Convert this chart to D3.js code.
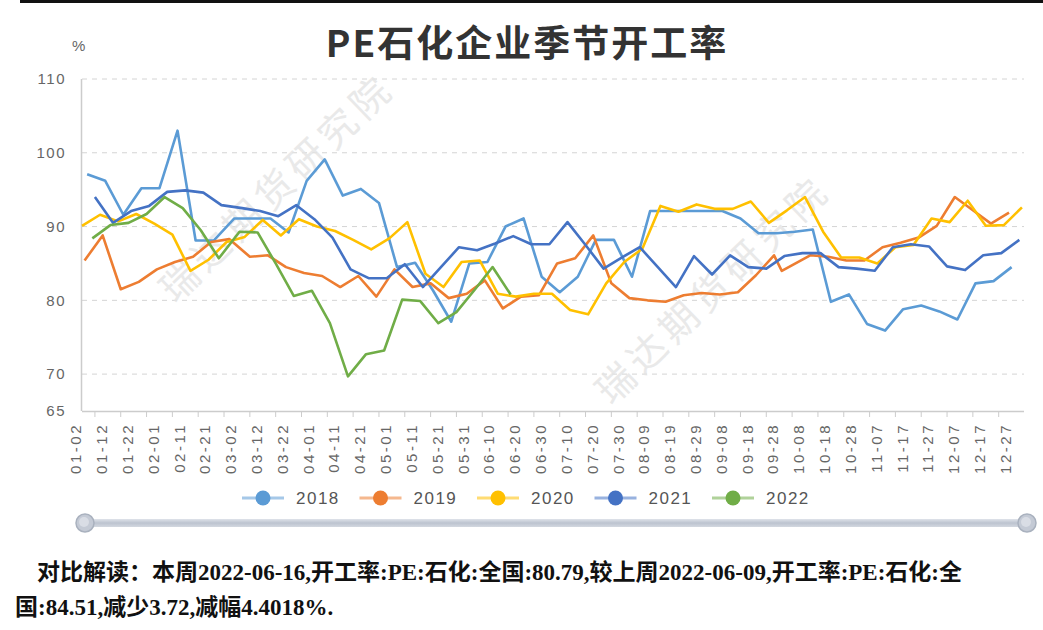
<!DOCTYPE html>
<html>
<head>
<meta charset="utf-8">
<script src="https://cdn.jsdelivr.net/npm/d3@7"></script>
<style>
body{margin:0;background:#fff;}
#canvas{width:1043px;height:630px;}
</style>
</head>
<body>
<div id="canvas"></div>
<script>
// series: one weekly value list per year, first date of each year
var years = ['2018','2019','2020','2021','2022'];
var colors = ['#5b9bd5','#ed7d31','#ffc000','#4472c4','#70ad47'];
var starts = ['2018-01-04','2019-01-03','2020-01-02','2021-01-07','2022-01-06'];

var v2018 = [97.1,96.2,91.6,95.2,95.2,103,88.1,88.1,91.1,91.1,
  91.1,89.2,96.2,99.1,94.2,95.1,93.2,84.5,85.1,81.3,
  77.1,85,85.2,90,91.1,83.2,81.1,83.2,88.2,88.2,
  83.2,92.1,92.1,92.1,92.1,92.1,91.1,89.1,89.1,89.3,
  89.6,79.8,80.8,76.8,75.9,78.8,79.3,78.5,77.4,82.3,
  82.6,84.5];
var v2019 = [85.4,88.8,81.5,82.5,84.2,85.2,85.9,87.9,88.3,85.9,
  86.1,84.5,83.7,83.3,81.8,83.3,80.5,84.2,81.8,82.3,
  80.3,80.9,82.7,78.9,80.5,80.7,85,85.7,88.8,82.3,
  80.3,80,79.8,80.7,81,80.8,81.1,83.4,86.1,84,
  86.1,85.9,85.4,85.4,87.2,87.8,88.5,90.1,94,92.2,
  90.4,91.9];
var v2020 = [90.1,91.6,90.7,91.7,90.4,88.9,84,85.5,87.9,88.6,
  90.9,88.8,91,90,89.4,88.2,86.9,88.4,90.6,83.6,
  81.8,85.2,85.4,80.9,80.5,80.9,80.9,78.7,78.1,82.3,
  85.2,87,92.8,92,93,92.4,92.4,93.4,90.5,92.2,
  94,89.3,85.8,85.8,85,87.2,87.5,91.1,90.6,93.5,
  90.1,90.2,92.6];
var v2021 = [94,90.5,92.1,92.8,94.7,94.9,94.6,92.9,92.5,92.1,
  91.4,92.9,91,88.5,84.2,83,83,84.9,81.8,84.5,
  87.2,86.8,87.7,88.7,87.6,87.6,90.6,87.5,84.3,85.8,
  87.2,84.5,81.8,86,83.5,86.1,84.5,84.3,86,86.4,
  86.4,84.5,84.3,84,87.2,87.6,87.3,84.6,84.1,86.1,
  86.4,88.2];
var v2022 = [88.4,90.2,90.5,91.7,94,92.5,89.5,85.7,89.3,89.2,
  85,80.6,81.3,76.9,69.7,72.7,73.2,80.1,79.9,76.9,
  78.4,81.4,84.51,80.79];
// week that was reported on another day (national day holiday)
var moved = {'2019': {39: '2019-09-29'}};

var xLabels = ['01-02','01-12','01-22','02-01','02-11','02-21','03-02','03-12','03-22',
  '04-01','04-11','04-21','05-01','05-11','05-21','05-31','06-10','06-20','06-30',
  '07-10','07-20','07-30','08-09','08-19','08-29','09-08','09-18','09-28',
  '10-08','10-18','10-28','11-07','11-17','11-27','12-07','12-17','12-27'];
var yTicks = [65,70,80,90,100,110];

var note1 = '对比解读：本周2022-06-16,开工率:PE:石化:全国:80.79,较上周2022-06-09,开工率:PE:石化:全';
var note2 = '国:84.51,减少3.72,减幅4.4018%.';

var W = 1043, H = 630;
var m = {t:79, r:19, b:219, l:82};

var svg = d3.select('#canvas').append('svg')
    .attr('width', W).attr('height', H)
    .style('font-family', '"Liberation Sans", Arial, sans-serif');

var parse = d3.timeParse('%Y-%m-%d');
// month-day placed on a leap-year calendar
function dayOf(d){
    var md = new Date(2020, d.getMonth(), d.getDate());
    return d3.timeDay.count(new Date(2020,0,1), md) + 1;
}

var x = d3.scaleLinear().domain([2, 366.8]).range([m.l, W - m.r]);
var y = d3.scaleLinear().domain([65, 110]).range([H - m.b, m.t]);

// top dark strip
svg.append('rect').attr('x', 20).attr('y', 0).attr('width', W - 20).attr('height', 3).attr('fill', '#111');

// title
svg.append('text')
    .attr('x', 527).attr('y', 57)
    .attr('text-anchor', 'middle')
    .style('font-family', '"Noto Sans CJK SC", sans-serif')
    .style('font-weight', 'bold')
    .style('font-size', '37px')
    .style('letter-spacing', '2px')
    .attr('fill', '#333')
    .text('PE石化企业季节开工率');

svg.append('text').attr('x', 72).attr('y', 51)
    .style('font-size', '15px').attr('fill', '#666').text('%');

// grid
svg.append('g').selectAll('line')
    .data(yTicks.filter(function(d){ return d > 65; }))
    .enter().append('line')
    .attr('x1', m.l).attr('x2', W - m.r)
    .attr('y1', function(d){ return y(d); }).attr('y2', function(d){ return y(d); })
    .attr('stroke', '#d4d4d4').attr('stroke-dasharray', '5,5');

svg.append('g').selectAll('text')
    .data(yTicks).enter().append('text')
    .attr('x', 66).attr('y', function(d){ return y(d); })
    .attr('dy', '0.35em').attr('text-anchor', 'end')
    .style('font-size', '15px').style('letter-spacing', '1.5px')
    .attr('fill', '#666')
    .text(function(d){ return d; });

// axes lines
svg.append('line').attr('x1', m.l - 0.5).attr('x2', m.l - 0.5)
    .attr('y1', m.t).attr('y2', y(65)).attr('stroke', '#ccc').attr('stroke-width', 1.5);
svg.append('line').attr('x1', m.l).attr('x2', W - m.r)
    .attr('y1', y(65) + 0.5).attr('y2', y(65) + 0.5).attr('stroke', '#ccc').attr('stroke-width', 1.5);

var labelDays = xLabels.map(function(s){ return dayOf(parse('2020-' + s)); });

svg.append('g').selectAll('line')
    .data(labelDays.filter(function(d){ return x(d + 5) < W - m.r; }))
    .enter().append('line')
    .attr('x1', function(d){ return x(d + 5); }).attr('x2', function(d){ return x(d + 5); })
    .attr('y1', y(65)).attr('y2', y(65) + 6)
    .attr('stroke', '#ccc');

svg.append('g').selectAll('text')
    .data(xLabels).enter().append('text')
    .attr('transform', function(d, i){ return 'translate(' + (x(labelDays[i]) - 6) + ',' + 423 + ') rotate(-90)'; })
    .attr('dy', '0.35em').attr('text-anchor', 'end')
    .style('font-size', '15px').style('letter-spacing', '2.5px')
    .attr('fill', '#666')
    .text(function(d){ return d; });

// watermark
[[277, 188], [713, 290]].forEach(function(p){
    svg.append('text')
        .attr('transform', 'translate(' + p[0] + ',' + p[1] + ') rotate(-44)')
        .attr('text-anchor', 'middle').attr('dy', '0.35em')
        .style('font-family', '"Noto Sans CJK SC", sans-serif')
        .style('font-size', '38px').style('letter-spacing', '6px')
        .attr('fill', '#e4e4e4').attr('opacity', 0.8)
        .text('瑞达期货研究院');
});

// lines
var allValues = [v2018, v2019, v2020, v2021, v2022];
var series = years.map(function(yr, k){
    var s = parse(starts[k]);
    return allValues[k].map(function(v, i){
        var dt = (moved[yr] && moved[yr][i]) ? parse(moved[yr][i]) : d3.timeDay.offset(s, 7 * i);
        return {day: dayOf(dt), v: v};
    });
});

var line = d3.line().x(function(d){ return x(d.day); }).y(function(d){ return y(d.v); });

svg.append('g').selectAll('path')
    .data(series).enter().append('path')
    .attr('d', line)
    .attr('fill', 'none')
    .attr('stroke', function(d, i){ return colors[i]; })
    .attr('stroke-width', 2.6)
    .attr('stroke-linejoin', 'round');

// legend
var lg = svg.append('g').selectAll('g')
    .data(years).enter().append('g')
    .attr('transform', function(d, i){ return 'translate(' + (263 + 117.5 * i) + ',498)'; });
lg.append('line').attr('x1', -21).attr('x2', 21)
    .attr('stroke', function(d, i){ return colors[i]; })
    .attr('stroke-opacity', 0.55).attr('stroke-width', 3);
lg.append('circle').attr('r', 7.5)
    .attr('fill', function(d, i){ return colors[i]; });
lg.append('text').attr('x', 33).attr('dy', '0.36em')
    .style('font-size', '17px').style('letter-spacing', '1.5px')
    .attr('fill', '#555')
    .text(function(d){ return d; });

// slider
var grad = svg.append('defs').append('linearGradient').attr('id', 'bar').attr('x1', 0).attr('x2', 0).attr('y1', 0).attr('y2', 1);
grad.append('stop').attr('offset', '0%').attr('stop-color', '#dfe3ea');
grad.append('stop').attr('offset', '50%').attr('stop-color', '#bcc3cf');
grad.append('stop').attr('offset', '100%').attr('stop-color', '#d3d8e0');
svg.append('rect').attr('x', 85).attr('y', 519).attr('width', 942).attr('height', 8)
    .attr('rx', 3).attr('fill', 'url(#bar)');
[85, 1027].forEach(function(cx){
    svg.append('circle').attr('cx', cx).attr('cy', 523).attr('r', 9)
        .attr('fill', '#c4cad5').attr('stroke', '#a9b1be').attr('stroke-width', 1.5);
    svg.append('circle').attr('cx', cx - 1).attr('cy', 522).attr('r', 5)
        .attr('fill', '#d9dde5');
});

// note text
var noteFont = '"Liberation Serif", "Noto Sans CJK SC", serif';
svg.append('text').attr('x', 37).attr('y', 580)
    .style('font-family', noteFont).style('font-weight', 'bold').style('font-size', '23px')
    .attr('fill', '#111').text(note1);
svg.append('text').attr('x', 15).attr('y', 615)
    .style('font-family', noteFont).style('font-weight', 'bold').style('font-size', '23px')
    .attr('fill', '#111').text(note2);
</script>
</body>
</html>
